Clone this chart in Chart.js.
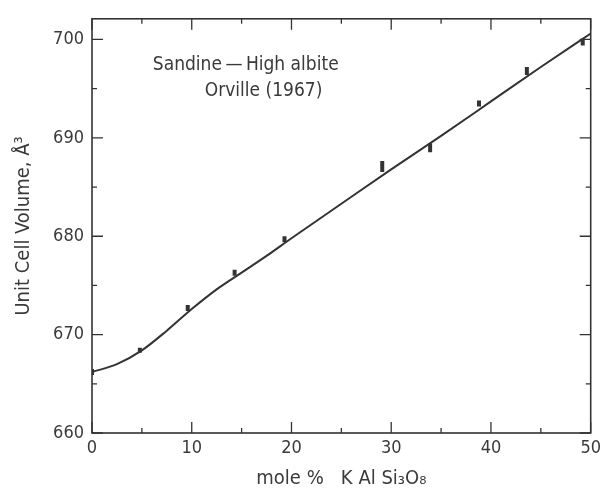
<!DOCTYPE html>
<html>
<head>
<meta charset="utf-8">
<script src="https://cdn.jsdelivr.net/npm/chart.js@4.4.1/dist/chart.umd.min.js"></script>
<style>
  html, body { margin: 0; padding: 0; background: #fff; }
  #wrap { width: 606px; height: 491px; }
</style>
</head>
<body>
<div id="wrap"><canvas id="chart" width="606" height="491"></canvas></div>
<script>
// measured points (mole % KAlSi3O8, unit cell volume)
const sampleX = [0, 4.8, 9.6, 14.3, 19.3, 29.1, 33.9, 38.8, 43.6, 49.2];
const sampleY = [666.2, 668.4, 672.7, 676.3, 679.7, 687.1, 689.0, 693.5, 696.8, 699.7];
const sampleBarHalf = [3, 2.5, 3, 3, 3, 5.5, 4.5, 3, 4, 3];

// smooth fitted curve
const curveX = [0, 2.5, 5, 7.5, 10, 12.5, 15, 17.5, 20, 25, 30, 35, 40, 45, 50];
const curveY = [666.2, 667.0, 668.4, 670.4, 672.6, 674.6, 676.3, 678.0, 679.8, 683.3, 686.8, 690.2, 693.7, 697.2, 700.6];

const xTicks = [0, 10, 20, 30, 40, 50];
const yTicks = [660, 670, 680, 690, 700];
const xMinor = [5, 15, 25, 35, 45];
const yMinor = [665, 675, 685, 695];

const ink = '#333';
const textInk = '#3a3a3a';
const fontFam = '"DejaVu Sans Condensed", "Liberation Sans Narrow", "DejaVu Sans", sans-serif';

// frame with inward ticks on all four sides, plus the caption
const framePlugin = {
    id: 'frame',
    afterDraw(chart) {
        const { ctx, chartArea: a, scales } = chart;
        const xs = scales.x, ys = scales.y;
        ctx.save();
        ctx.strokeStyle = ink;
        ctx.lineWidth = 1.6;
        ctx.strokeRect(a.left, a.top, a.right - a.left, a.bottom - a.top);
        ctx.lineWidth = 1.3;
        const tick = (vals, len, isX) => {
            vals.forEach(v => {
                ctx.beginPath();
                if (isX) {
                    const px = xs.getPixelForValue(v);
                    ctx.moveTo(px, a.bottom); ctx.lineTo(px, a.bottom - len);
                    ctx.moveTo(px, a.top); ctx.lineTo(px, a.top + len);
                } else {
                    const py = ys.getPixelForValue(v);
                    ctx.moveTo(a.left, py); ctx.lineTo(a.left + len, py);
                    ctx.moveTo(a.right, py); ctx.lineTo(a.right - len, py);
                }
                ctx.stroke();
            });
        };
        tick(xTicks, 11, true);
        tick(xMinor, 5, true);
        tick(yTicks, 11, false);
        tick(yMinor, 5, false);

        ctx.fillStyle = textInk;
        ctx.font = '19px ' + fontFam;
        ctx.textAlign = 'left';
        ctx.textBaseline = 'alphabetic';
        ctx.fillText('Sandine\u2009\u2014\u2009High albite', xs.getPixelForValue(6.1), ys.getPixelForValue(696.9));
        ctx.fillText('Orville (1967)', xs.getPixelForValue(11.3), ys.getPixelForValue(694.3));
        ctx.restore();
    }
};

new Chart(document.getElementById('chart'), {
    type: 'scatter',
    data: {
        datasets: [
            {
                label: 'curve',
                data: curveX.map((x, i) => ({ x, y: curveY[i] })),
                showLine: true,
                borderColor: ink,
                borderWidth: 2,
                pointRadius: 0,
                cubicInterpolationMode: 'monotone',
                fill: false
            },
            {
                label: 'Orville (1967)',
                data: sampleX.map((x, i) => ({ x, y: sampleY[i] })),
                pointStyle: 'line',
                rotation: 90,
                pointRadius: sampleBarHalf,
                pointBorderWidth: 4,
                borderColor: ink,
                backgroundColor: ink
            }
        ]
    },
    options: {
        responsive: false,
        animation: false,
        layout: { padding: { top: 13, right: 14, left: 0, bottom: 0 } },
        plugins: {
            legend: { display: false },
            tooltip: { enabled: false }
        },
        scales: {
            x: {
                type: 'linear',
                min: 0,
                max: 50,
                afterBuildTicks: s => { s.ticks = xTicks.map(v => ({ value: v })); },
                afterFit: s => { s.height = 58; },
                grid: { display: false, drawTicks: false },
                border: { display: false },
                ticks: { color: textInk, font: { family: fontFam, size: 18 }, padding: 5, maxRotation: 0 },
                title: { display: true, text: 'mole %   K Al Si\u2083O\u2088', color: textInk, font: { family: fontFam, size: 20 }, padding: { top: 4, bottom: 0 } }
            },
            y: {
                type: 'linear',
                min: 660,
                max: 702.1,
                afterBuildTicks: s => { s.ticks = yTicks.map(v => ({ value: v })); },
                afterFit: s => { s.width = 92; },
                grid: { display: false, drawTicks: false },
                border: { display: false },
                ticks: { color: textInk, font: { family: fontFam, size: 18 }, padding: 8 },
                title: { display: true, text: 'Unit Cell Volume, \u00c5\u00b3', color: textInk, font: { family: fontFam, size: 20 }, padding: { top: 12, bottom: 4 } }
            }
        }
    },
    plugins: [framePlugin]
});
</script>
</body>
</html>
